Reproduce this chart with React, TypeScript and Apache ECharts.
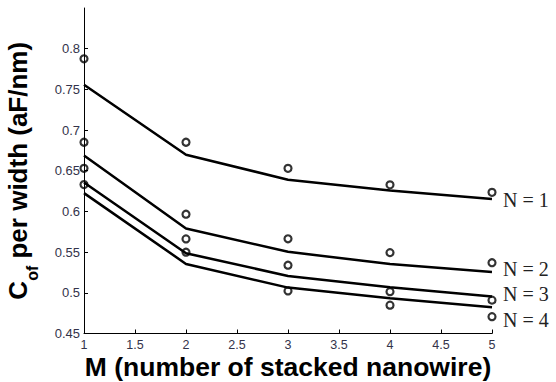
import React, { useEffect, useRef } from "react";
import * as echarts from "echarts";

// M values (x)
const mValues = [1, 2, 3, 4, 5];

// Fitted curves (solid lines)
const fitN1 = [0.7557, 0.6696, 0.639, 0.6257, 0.6152];
const fitN2 = [0.6687, 0.579, 0.5504, 0.5353, 0.5257];
const fitN3 = [0.6355, 0.5487, 0.5207, 0.5068, 0.4955];
const fitN4 = [0.6225, 0.5355, 0.5064, 0.4933, 0.4822];

// Measured points (open circles)
const measN1 = [0.7876, 0.685, 0.653, 0.6327, 0.6235];
const measN2 = [0.685, 0.5966, 0.5664, 0.5494, 0.537];
const measN3 = [0.653, 0.5662, 0.5339, 0.5014, 0.491];
const measN4 = [0.633, 0.5499, 0.5023, 0.4848, 0.4707];

const seriesLabels = ["N = 1", "N = 2", "N = 3", "N = 4"];

// Tick labels
const yTicks = [0.45, 0.5, 0.55, 0.6, 0.65, 0.7, 0.75, 0.8];
const xTicks = [1, 1.5, 2, 2.5, 3, 3.5, 4, 4.5, 5];

const fits = [fitN1, fitN2, fitN3, fitN4];
const meas = [measN1, measN2, measN3, measN4];
const endLabelDy = [1, -3, -2, 13];

const tickColor = "#33334a";

export default function App() {
  const ref = useRef<HTMLDivElement>(null);
  useEffect(() => {
    if (!ref.current) return;
    const chart = echarts.init(ref.current, undefined, { renderer: "svg" });
    const lineSeries = fits.map((f, i) => ({
      type: "line",
      data: mValues.map((m, j) => [m, f[j]]),
      showSymbol: false,
      symbol: "none",
      lineStyle: { color: "#000", width: 2.5 },
      z: 2,
      endLabel: {
        show: true,
        formatter: seriesLabels[i],
        distance: 11,
        offset: [0, endLabelDy[i]],
        fontFamily: "Liberation Serif",
        fontSize: 20,
        color: "#222",
      },
    }));
    const scatterSeries = meas.map((d) => ({
      type: "scatter",
      data: mValues.map((m, j) => [m, d[j]]),
      symbol: "circle",
      symbolSize: 7,
      itemStyle: { color: "rgba(0,0,0,0)", borderColor: "#000", borderWidth: 2.2 },
      z: 3,
    }));
    chart.setOption({
      animation: false,
      backgroundColor: "#fff",
      grid: { left: 84, right: 64, top: 8, bottom: 48.5, containLabel: false, outerBoundsMode: "none" },
      xAxis: {
        type: "value",
        min: 1,
        max: 5,
        interval: 0.5,
        name: "M (number of stacked nanowire)",
        nameLocation: "middle",
        nameGap: 20,
        nameMoveOverlap: false,
        nameTextStyle: {
          fontFamily: "Liberation Sans",
          fontWeight: "bold",
          fontSize: 26.5,
          color: "#000",
        },
        axisLine: { show: true, lineStyle: { color: "#000", width: 1 } },
        axisTick: { show: true, inside: true, length: 4, lineStyle: { color: "#000" }, customValues: xTicks },
        axisLabel: {
          customValues: xTicks,
          margin: 5,
          fontFamily: "Liberation Sans",
          fontSize: 12.5,
          color: tickColor,
        },
        splitLine: { show: false },
      },
      yAxis: {
        type: "value",
        min: 0.45,
        max: 0.85,
        interval: 0.05,
        name: "{c|C}{s|of}{n| per width (aF/nm)}",
        nameLocation: "middle",
        nameGap: 44,
        nameMoveOverlap: false,
        nameTextStyle: {
          fontFamily: "Liberation Sans",
          fontWeight: "bold",
          color: "#000",
          rich: {
            c: { fontFamily: "Liberation Sans", fontWeight: "bold", fontSize: 26, lineHeight: 45, verticalAlign: "middle", color: "#000" },
            s: { fontFamily: "Liberation Sans", fontWeight: "bold", fontSize: 16, lineHeight: 16, verticalAlign: "bottom", color: "#000" },
            n: { fontFamily: "Liberation Sans", fontWeight: "bold", fontSize: 26, lineHeight: 45, verticalAlign: "middle", color: "#000" },
          },
        },
        axisLine: { show: true, lineStyle: { color: "#000", width: 1 } },
        axisTick: { show: true, inside: true, length: 4, lineStyle: { color: "#000" }, customValues: yTicks },
        axisLabel: {
          customValues: yTicks,
          margin: 4,
          fontFamily: "Liberation Sans",
          fontSize: 13,
          color: tickColor,
        },
        splitLine: { show: false },
      },
      series: [...lineSeries, ...scatterSeries],
    });
    return () => chart.dispose();
  }, []);
  return (
    <div
      ref={ref}
      style={{ position: "fixed", left: 0, top: 0, width: 556, height: 382, background: "#fff" }}
    />
  );
}
